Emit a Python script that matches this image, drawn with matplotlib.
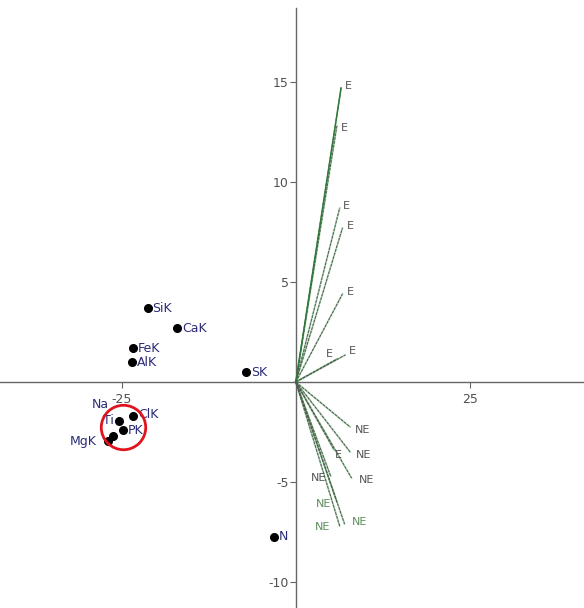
import matplotlib.pyplot as plt

# sample scores (first two components)
sample_names = ['SiK', 'CaK', 'FeK', 'AlK', 'SK', 'ClK', 'PK', 'Ti', 'Na', 'MgK', 'N']
sample_x = [-21.3, -17.1, -23.4, -23.6, -7.2, -23.4, -24.9, -25.4, -26.2, -27.0, -3.2]
sample_y = [3.7, 2.7, 1.7, 1.0, 0.5, -1.7, -2.4, -1.95, -2.7, -2.95, -7.75]
# label offsets in pixels
sample_dx = [5, 5, 5, 5, 5, 5, 5, -16, -22, -38, 5]
sample_dy = [0, 0, 0, 0, 0, 1, 0, 0, 31, 0, 1]

# loading vectors
vec_labels = ['E', 'E', 'E', 'E', 'E', 'E', 'E',
              'NE', 'NE', 'E', 'NE', 'NE', 'NE', 'NE', 'NE']
vec_x = [6.5, 5.9, 6.3, 6.7, 6.7, 5.9, 7.1,
         7.8, 7.8, 5.5, 8.0, 5.0, 5.9, 6.3, 7.0]
vec_y = [14.7, 12.8, 8.7, 7.7, 4.4, 1.15, 1.35,
         -2.25, -3.5, -3.4, -4.8, -4.7, -6.0, -7.2, -7.1]
vec_dx = [4, 4, 3, 4, 4, -4, 4, 5, 6, 1, 7, -4, -6, -9, 7]
vec_dy = [2, -2, 2, 2, 2, 5, 4, -3, -3, -5, -2, -2, -2, -1, 2]

# highlighted group
ring_x, ring_y = -24.9, -2.25

fig = plt.figure(figsize=(5.84, 6.08), dpi=100)
ax = fig.add_axes([0, 0, 1, 1])
ax.set_xlim(-42.5, 41.4)
ax.set_ylim(-11.3, 19.1)

axis_col = '#666666'
for side in ['top', 'right']:
    ax.spines[side].set_visible(False)
ax.spines['left'].set_position(('data', 0))
ax.spines['bottom'].set_position(('data', 0))
ax.spines['left'].set_bounds(-11.3, 18.7)
for side in ['left', 'bottom']:
    ax.spines[side].set_color(axis_col)
    ax.spines[side].set_linewidth(1.0)

ax.set_xticks([-25, 25])
ax.set_xticklabels(['-25', '25'])
ax.set_yticks([-10, -5, 5, 10, 15])
ax.set_yticklabels(['-10', '-5', '5', '10', '15'])
ax.tick_params(axis='both', colors=axis_col, labelcolor='#505050',
               labelsize=9, length=4, width=0.8, direction='out')
ax.tick_params(axis='y', pad=1)
ax.tick_params(axis='x', pad=4)

# vectors: green line underneath, grey dashed line on top
for x, y in zip(vec_x, vec_y):
    ax.plot([0, x], [0, y], color='#3aa845', lw=1.3, alpha=0.4, zorder=2)
    ax.plot([0, x], [0, y], color='#555555', lw=0.7, ls=(0, (3, 1)), zorder=3)
ax.plot([0, vec_x[0]], [0, vec_y[0]], color='#2f7a3a', lw=1.0, zorder=3)

for lab, x, y, dx, dy in zip(vec_labels, vec_x, vec_y, vec_dx, vec_dy):
    col = '#555555' if y > -5.5 else '#5c8f5c'
    ax.annotate(lab, (x, y), xytext=(dx, dy), textcoords='offset pixels',
                fontsize=8, color=col, va='center', ha='left' if dx >= 0 else 'right')

ax.plot(sample_x, sample_y, 'o', color='black', ms=5.5, zorder=4)
for lab, x, y, dx, dy in zip(sample_names, sample_x, sample_y, sample_dx, sample_dy):
    ax.annotate(lab, (x, y), xytext=(dx, dy), textcoords='offset pixels',
                fontsize=9, color='#2b2b78', va='center', ha='left')

ax.plot([ring_x], [ring_y], 'o', mfc='none', mec='#e0141e', mew=2.0, ms=32, zorder=5)

fig.savefig('out.png', dpi=100)
